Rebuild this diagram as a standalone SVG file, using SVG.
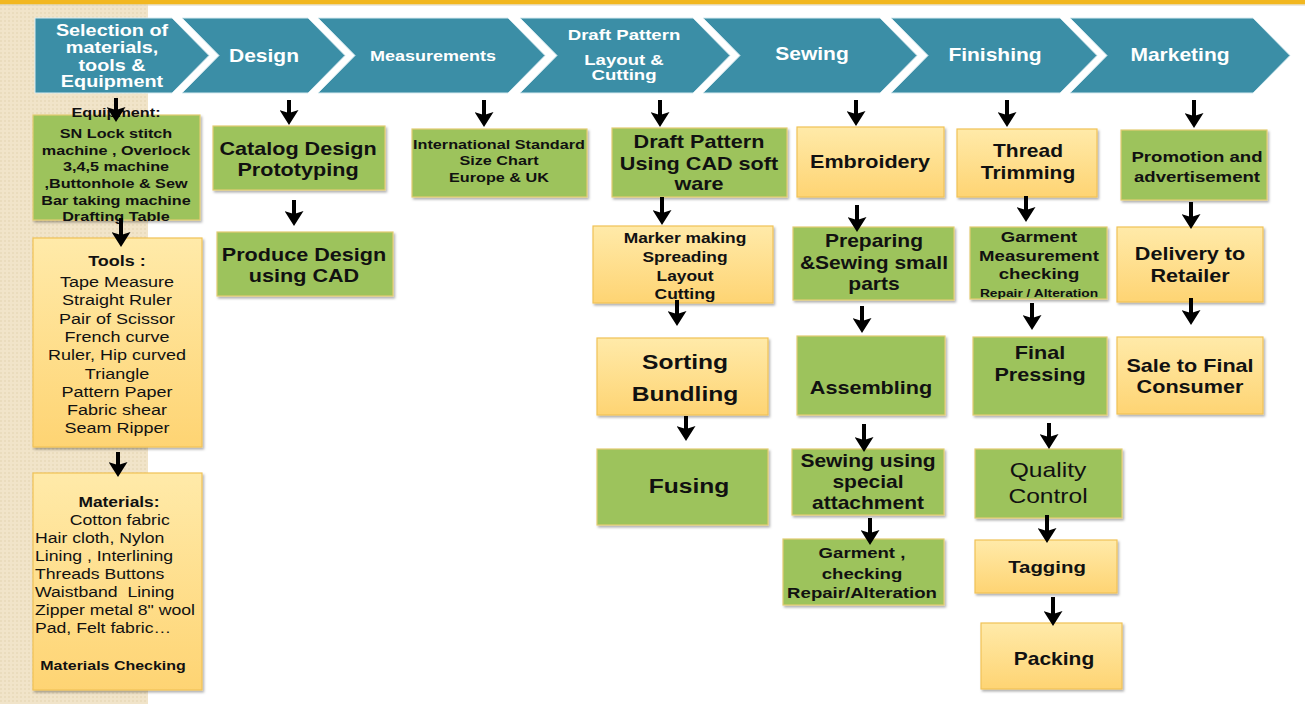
<svg xmlns="http://www.w3.org/2000/svg" width="1305" height="704" viewBox="0 0 1305 704">
<style>
.t{font-family:"Liberation Sans",Arial,sans-serif;fill:#111;text-anchor:middle}
.s{text-anchor:start}
.b{font-weight:bold}
.w{fill:#fff}
.chev{fill:#3b8ea6;stroke:#d8ebf0;stroke-width:1}
.g{fill:#9dc35c;stroke:#e3cc72;stroke-width:1.2;filter:url(#sh)}
.y{fill:url(#yg);stroke:#f0c257;stroke-width:1.2;filter:url(#sh)}
.c{fill:none;stroke:#000;stroke-width:4;marker-end:url(#ah)}
</style>
<defs>
<filter id="sh" x="-10%" y="-10%" width="130%" height="130%">
<feDropShadow dx="1.5" dy="2" stdDeviation="1.2" flood-color="#000" flood-opacity="0.3"/>
</filter>
<linearGradient id="yg" x1="0" y1="0" x2="0" y2="1">
<stop offset="0" stop-color="#ffeaa9"/>
<stop offset="1" stop-color="#fed473"/>
</linearGradient>
<pattern id="dots" width="4" height="4" patternUnits="userSpaceOnUse">
<rect width="4" height="4" fill="#f1e4c9"/>
<circle cx="1" cy="1" r="0.8" fill="#e3d2ae"/>
</pattern>
<marker id="ah" markerUnits="userSpaceOnUse" viewBox="0 0 15 19" refX="9" refY="9.5" markerWidth="15" markerHeight="19" orient="auto">
<path d="M0,0 L15,9.5 L0,19 L3,9.5 Z" fill="#000"/>
</marker>
</defs>
<rect x="0" y="0" width="1305" height="704" fill="#fff"/>
<rect x="0" y="0" width="148" height="704" fill="url(#dots)"/>
<rect x="0" y="0" width="1305" height="4.5" fill="#f2b71f"/>
<rect x="0" y="4.5" width="1305" height="1" fill="#d9d3c0"/>

<g id="stage-selection"><path class="chev" d="M35,18 L172,18 L209,55.5 L172,93 L35,93 Z"/>
<text class="t b w" font-size="16.5" transform="translate(112,0) scale(1.2,1)"><tspan x="0" y="36">Selection of</tspan><tspan x="0" y="53">materials,</tspan><tspan x="0" y="71">tools &amp;</tspan><tspan x="0" y="87">Equipment</tspan></text></g>
<g id="stage-design"><path class="chev" d="M182,18 L308,18 L345,55.5 L308,93 L182,93 L219,55.5 Z"/>
<text class="t b w" font-size="17.5" transform="translate(264,0) scale(1.2,1)"><tspan x="0" y="62">Design</tspan></text></g>
<g id="stage-measurements"><path class="chev" d="M318,18 L508,18 L545,55.5 L508,93 L318,93 L355,55.5 Z"/>
<text class="t b w" font-size="15" transform="translate(433,0) scale(1.2,1)"><tspan x="0" y="61">Measurements</tspan></text></g>
<g id="stage-draft"><path class="chev" d="M520,18 L693,18 L730,55.5 L693,93 L520,93 L557,55.5 Z"/>
<text class="t b w" font-size="15.5" transform="translate(624,0) scale(1.2,1)"><tspan x="0" y="40">Draft Pattern</tspan><tspan x="0" y="65">Layout &amp;</tspan><tspan x="0" y="80">Cutting</tspan></text></g>
<g id="stage-sewing"><path class="chev" d="M703,18 L880,18 L917,55.5 L880,93 L703,93 L740,55.5 Z"/>
<text class="t b w" font-size="17.5" transform="translate(812,0) scale(1.2,1)"><tspan x="0" y="60">Sewing</tspan></text></g>
<g id="stage-finishing"><path class="chev" d="M891,18 L1060,18 L1097,55.5 L1060,93 L891,93 L928,55.5 Z"/>
<text class="t b w" font-size="17.5" transform="translate(995,0) scale(1.2,1)"><tspan x="0" y="61.5">Finishing</tspan></text></g>
<g id="stage-marketing"><path class="chev" d="M1070,18 L1253,18 L1290,55.5 L1253,93 L1070,93 L1107,55.5 Z"/>
<text class="t b w" font-size="17.5" transform="translate(1180,0) scale(1.2,1)"><tspan x="0" y="61.5">Marketing</tspan></text></g>

<g id="n-equipment"><rect class="g" x="33" y="115" width="167" height="105"/>
<text class="t b" font-size="13.5" transform="translate(116,0) scale(1.2,1)"><tspan x="0" y="117">Equipment:</tspan><tspan x="0" y="138">SN Lock stitch</tspan><tspan x="0" y="155">machine , Overlock</tspan><tspan x="0" y="171">3,4,5 machine</tspan><tspan x="0" y="188">,Buttonhole &amp; Sew</tspan><tspan x="0" y="205">Bar taking machine</tspan><tspan x="0" y="221">Drafting Table</tspan></text></g>
<g id="n-tools"><rect class="y" x="33" y="238" width="169" height="209"/>
<text class="t" font-size="15" transform="translate(117,0) scale(1.2,1)"><tspan x="0" y="266" font-weight="bold">Tools :</tspan><tspan x="0" y="287">Tape Measure</tspan><tspan x="0" y="305">Straight Ruler</tspan><tspan x="0" y="324">Pair of Scissor</tspan><tspan x="0" y="342">French curve</tspan><tspan x="0" y="360">Ruler, Hip curved</tspan><tspan x="0" y="379">Triangle</tspan><tspan x="0" y="397">Pattern Paper</tspan><tspan x="0" y="415">Fabric shear</tspan><tspan x="0" y="433">Seam Ripper</tspan></text></g>
<g id="n-materials"><rect class="y" x="33" y="473" width="169" height="217"/>
<text class="t b" font-size="14.5" transform="translate(119,0) scale(1.2,1)"><tspan x="0" y="507">Materials:</tspan></text>
<text class="t s" font-size="14.7" transform="translate(35,0) scale(1.2,1)"><tspan x="29" y="525">Cotton fabric</tspan><tspan x="0" y="543">Hair cloth, Nylon</tspan><tspan x="0" y="561">Lining , Interlining</tspan><tspan x="0" y="579">Threads Buttons</tspan><tspan x="0" y="597">Waistband&#160; Lining</tspan><tspan x="0" y="615">Zipper metal 8" wool</tspan><tspan x="0" y="633">Pad, Felt fabric…</tspan></text>
<text class="t b" font-size="13.3" transform="translate(113,0) scale(1.2,1)"><tspan x="0" y="670">Materials Checking</tspan></text></g>

<g id="n-catalog"><rect class="g" x="213" y="126" width="172" height="64"/>
<text class="t b" font-size="18" transform="translate(298,0) scale(1.2,1)"><tspan x="0" y="155">Catalog Design</tspan><tspan x="0" y="176">Prototyping</tspan></text></g>
<g id="n-produce"><rect class="g" x="217" y="232" width="176" height="64"/>
<text class="t b" font-size="18" transform="translate(304,0) scale(1.2,1)"><tspan x="0" y="261">Produce Design</tspan><tspan x="0" y="282">using CAD</tspan></text></g>
<g id="n-size"><rect class="g" x="412" y="129" width="175" height="68"/>
<text class="t b" font-size="13.5" transform="translate(499,0) scale(1.2,1)"><tspan x="0" y="149">International Standard</tspan><tspan x="0" y="165">Size Chart</tspan><tspan x="0" y="182">Europe &amp; UK</tspan></text></g>

<g id="n-draftcad"><rect class="g" x="612" y="128" width="175" height="69"/>
<text class="t b" font-size="18" transform="translate(699,0) scale(1.2,1)"><tspan x="0" y="148">Draft Pattern</tspan><tspan x="0" y="170">Using CAD soft</tspan><tspan x="0" y="190">ware</tspan></text></g>
<g id="n-marker"><rect class="y" x="593" y="226" width="180" height="77"/>
<text class="t b" font-size="14.5" transform="translate(685,0) scale(1.2,1)"><tspan x="0" y="243">Marker making</tspan><tspan x="0" y="262">Spreading</tspan><tspan x="0" y="281">Layout</tspan><tspan x="0" y="299">Cutting</tspan></text></g>
<g id="n-sorting"><rect class="y" x="597" y="338" width="171" height="77"/>
<text class="t b" font-size="20.5" transform="translate(685,0) scale(1.2,1)"><tspan x="0" y="369">Sorting</tspan><tspan x="0" y="401">Bundling</tspan></text></g>
<g id="n-fusing"><rect class="g" x="597" y="449" width="171" height="76"/>
<text class="t b" font-size="20.5" transform="translate(689,0) scale(1.2,1)"><tspan x="0" y="493">Fusing</tspan></text></g>

<g id="n-embroidery"><rect class="y" x="797" y="127" width="147" height="70"/>
<text class="t b" font-size="18" transform="translate(870,0) scale(1.2,1)"><tspan x="0" y="168">Embroidery</tspan></text></g>
<g id="n-preparing"><rect class="g" x="793" y="227" width="161" height="73"/>
<text class="t b" font-size="17.5" transform="translate(874,0) scale(1.2,1)"><tspan x="0" y="247">Preparing</tspan><tspan x="0" y="269">&amp;Sewing small</tspan><tspan x="0" y="290">parts</tspan></text></g>
<g id="n-assembling"><rect class="g" x="797" y="336" width="148" height="79"/>
<text class="t b" font-size="18" transform="translate(871,0) scale(1.2,1)"><tspan x="0" y="394">Assembling</tspan></text></g>
<g id="n-special"><rect class="g" x="792" y="449" width="152" height="66"/>
<text class="t b" font-size="17.5" transform="translate(868,0) scale(1.2,1)"><tspan x="0" y="467">Sewing using</tspan><tspan x="0" y="488">special</tspan><tspan x="0" y="509">attachment</tspan></text></g>
<g id="n-garment1"><rect class="g" x="783" y="539" width="161" height="66"/>
<text class="t b" font-size="15.5" transform="translate(862,0) scale(1.2,1)"><tspan x="0" y="558">Garment ,</tspan><tspan x="0" y="579">checking</tspan><tspan x="0" y="598">Repair/Alteration</tspan></text></g>

<g id="n-thread"><rect class="y" x="957" y="129" width="140" height="68"/>
<text class="t b" font-size="17.5" transform="translate(1028,0) scale(1.2,1)"><tspan x="0" y="157">Thread</tspan><tspan x="0" y="179">Trimming</tspan></text></g>
<g id="n-garment2"><rect class="g" x="970" y="227" width="137" height="72"/>
<text class="t b" font-size="15.5" transform="translate(1039,0) scale(1.2,1)"><tspan x="0" y="242">Garment</tspan><tspan x="0" y="261">Measurement</tspan><tspan x="0" y="279">checking</tspan><tspan x="0" y="297" font-size="11.5">Repair / Alteration</tspan></text></g>
<g id="n-pressing"><rect class="g" x="973" y="337" width="134" height="78"/>
<text class="t b" font-size="18" transform="translate(1040,0) scale(1.2,1)"><tspan x="0" y="359">Final</tspan><tspan x="0" y="381">Pressing</tspan></text></g>
<g id="n-quality"><rect class="g" x="975" y="449" width="147" height="69"/>
<text class="t" font-size="20.5" transform="translate(1048,0) scale(1.2,1)"><tspan x="0" y="477">Quality</tspan><tspan x="0" y="503">Control</tspan></text></g>
<g id="n-tagging"><rect class="y" x="975" y="540" width="142" height="53"/>
<text class="t b" font-size="17" transform="translate(1047,0) scale(1.2,1)"><tspan x="0" y="573">Tagging</tspan></text></g>
<g id="n-packing"><rect class="y" x="981" y="623" width="141" height="66"/>
<text class="t b" font-size="17.5" transform="translate(1054,0) scale(1.2,1)"><tspan x="0" y="665">Packing</tspan></text></g>

<g id="n-promotion"><rect class="g" x="1121" y="130" width="146" height="70"/>
<text class="t b" font-size="15.5" transform="translate(1197,0) scale(1.2,1)"><tspan x="0" y="162">Promotion and</tspan><tspan x="0" y="182">advertisement</tspan></text></g>
<g id="n-delivery"><rect class="y" x="1117" y="227" width="146" height="75"/>
<text class="t b" font-size="18" transform="translate(1190,0) scale(1.2,1)"><tspan x="0" y="260">Delivery to</tspan><tspan x="0" y="282">Retailer</tspan></text></g>
<g id="n-sale"><rect class="y" x="1117" y="337" width="146" height="77"/>
<text class="t b" font-size="18" transform="translate(1190,0) scale(1.2,1)"><tspan x="0" y="372">Sale to Final</tspan><tspan x="0" y="393">Consumer</tspan></text></g>

<g id="connectors">
<path class="c" d="M116,98 V116"/>
<path class="c" d="M121,218 V241"/>
<path class="c" d="M118,452 V471"/>
<path class="c" d="M289,100 V119"/>
<path class="c" d="M294,200 V220"/>
<path class="c" d="M484,100 V121"/>
<path class="c" d="M660,100 V121"/>
<path class="c" d="M662,197 V219"/>
<path class="c" d="M677,300 V320"/>
<path class="c" d="M686,416 V435"/>
<path class="c" d="M856,100 V120"/>
<path class="c" d="M857,205 V226"/>
<path class="c" d="M862,306 V327"/>
<path class="c" d="M864,424 V446"/>
<path class="c" d="M870,518 V539"/>
<path class="c" d="M1007,100 V121"/>
<path class="c" d="M1026,196 V216"/>
<path class="c" d="M1032,303 V324"/>
<path class="c" d="M1049,423 V443"/>
<path class="c" d="M1047,515 V537"/>
<path class="c" d="M1053,597 V620"/>
<path class="c" d="M1194,100 V122"/>
<path class="c" d="M1191,202 V223"/>
<path class="c" d="M1191,298 V319"/>
</g>
</svg>
